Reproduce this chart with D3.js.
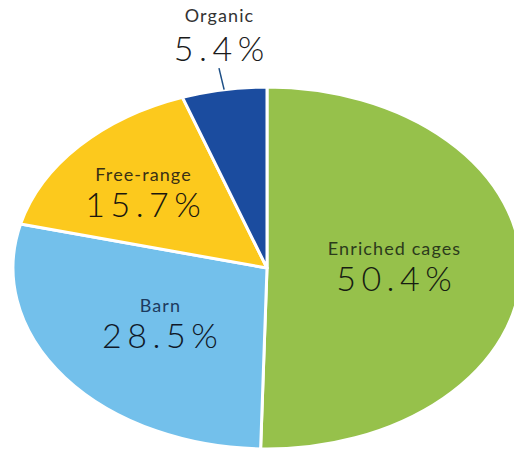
<!DOCTYPE html>
<html>
<head>
<meta charset="utf-8">
<script src="https://cdn.jsdelivr.net/npm/d3@7"></script>
<style>
  html, body { margin: 0; padding: 0; background: #ffffff; }
  svg { display: block; }
  text { font-family: "Lato", "Open Sans", sans-serif; }
</style>
</head>
<body>
<svg id="chart" width="514" height="449"></svg>
<script>
// ---- data ----
const categories = ["Enriched cages", "Barn", "Free-range", "Organic"];
const shares = [50.4, 28.5, 15.7, 5.4];
const valueLabels = ["50.4%", "28.5%", "15.7%", "5.4%"];
const sliceColors = ["#96c14b", "#73c0eb", "#fcc91d", "#1b4c9f"];
const nameColors = ["#2c3b1c", "#1d3a5e", "#3a3014", "#333333"];
const valueColors = ["#161d12", "#101828", "#1a170e", "#1a1a1a"];

// ---- layout ----
const cx = 267, cy = 268, rx = 254, ry = 181, R = 100;
const nameSize = 18, nameSpacing = 1.1;
const valueSize = 34, valueSpacing = 5.5;
// label anchor factors [fx, fy] relative to slice mid-angle on the ellipse
const labelFactors = [[0.5, 0.5], [0.53, 0.53], [0.66, 0.6], [1.12, 1.12]];

const svg = d3.select("#chart");
const pie = d3.pie().sort(null).value(d => d.v).startAngle(0).endAngle(2 * Math.PI);
const data = categories.map((c, i) => ({ name: c, v: shares[i], label: valueLabels[i], i }));
const arcs = pie(data);
const arc = d3.arc().innerRadius(0).outerRadius(R);

const g = svg.append("g")
  .attr("transform", `translate(${cx},${cy}) scale(${rx / R},${ry / R})`);

g.selectAll("path")
  .data(arcs)
  .join("path")
  .attr("d", arc)
  .attr("fill", d => sliceColors[d.data.i])
  .attr("stroke", "#ffffff")
  .attr("stroke-width", 3)
  .attr("stroke-linejoin", "round")
  .attr("vector-effect", "non-scaling-stroke");

function pos(angle, fx, fy) {
  return [cx + rx * fx * Math.sin(angle), cy - ry * fy * Math.cos(angle)];
}

const labels = svg.append("g");
function nameText(x, y, i, txt) {
  labels.append("text")
    .attr("x", x + nameSpacing / 2).attr("y", y)
    .attr("text-anchor", "middle")
    .attr("font-size", nameSize)
    .attr("letter-spacing", nameSpacing)
    .attr("fill", nameColors[i])
    .text(txt);
}
function valueText(x, y, i, txt) {
  labels.append("text")
    .attr("x", x + valueSpacing / 2).attr("y", y)
    .attr("text-anchor", "middle")
    .attr("font-size", valueSize).attr("font-weight", 300)
    .attr("letter-spacing", valueSpacing)
    .attr("fill", valueColors[i])
    .text(txt);
}

arcs.forEach(d => {
  const i = d.data.i;
  const mid = (d.startAngle + d.endAngle) / 2;
  const [fx, fy] = labelFactors[i];
  if (i === 3) {
    const p0 = pos(mid, 1.0, 1.0);
    const p1 = pos(mid, fx, fy);
    labels.append("line")
      .attr("x1", p0[0]).attr("y1", p0[1])
      .attr("x2", p1[0]).attr("y2", p1[1])
      .attr("stroke", "#1d4f86").attr("stroke-width", 1.5);
    valueText(p1[0], p1[1] - 7, i, d.data.label);
    nameText(p1[0], p1[1] - 46, i, d.data.name);
  } else {
    const [x, y] = pos(mid, fx, fy);
    nameText(x, y - 14, i, d.data.name);
    valueText(x, y + 22, i, d.data.label);
  }
});
</script>
</body>
</html>
